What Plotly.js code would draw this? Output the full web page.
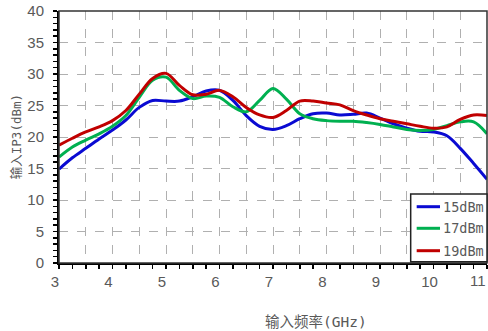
<!DOCTYPE html>
<html>
<head>
<meta charset="utf-8">
<script src="https://cdn.plot.ly/plotly-3.0.1.min.js"></script>
<style>html,body{margin:0;padding:0;background:#fff;}#chart{width:488px;height:331px;}</style>
</head>
<body>
<div id="chart"></div>
<script>
const freq = [3,3.25,3.5,3.75,4,4.25,4.5,4.75,5,5.25,5.5,5.75,6,6.25,6.5,6.75,7,7.25,7.5,7.75,8,8.25,8.5,8.75,9,9.25,9.5,9.75,10,10.25,10.5,10.75,11];
const ip3_15 = [14.9,16.7,18.2,19.7,21.1,22.7,24.7,25.8,25.7,25.7,26.4,27.3,27.4,25.8,23.4,21.7,21.2,21.8,22.9,23.7,23.8,23.5,23.6,23.8,23.0,22.1,21.4,20.9,20.8,20.2,18.2,15.8,13.3];
const ip3_17 = [16.8,18.4,19.5,20.5,21.7,23.4,26.3,29.0,29.5,27.4,26.1,26.5,26.3,24.8,24.0,25.8,27.7,26.0,23.7,22.9,22.6,22.5,22.5,22.3,22.0,21.6,21.2,21.05,21.2,21.8,22.4,22.4,20.5];
const ip3_19 = [18.7,19.8,20.8,21.6,22.6,24.2,26.8,29.3,30.1,28.2,26.7,26.8,27.4,26.4,24.7,23.5,23.1,24.2,25.7,25.7,25.4,25.1,24.2,23.5,22.9,22.5,22.1,21.7,21.4,21.6,22.8,23.5,23.4];
const seriesNames = ['15dBm','17dBm','19dBm'];
const seriesColors = ['#0a0ad2','#00b050','#c00000'];
const xTickVals = [3,3.5,4,4.5,5,5.5,6,6.5,7,7.5,8,8.5,9,9.5,10,10.5,11];
const xTickText = ['3','','4','','5','','6','','7','','8','','9','','10','',''];
const lastTickLabel = '11';
const xTitle = '输入频率(GHz)';
const yTitle = '输入IP3(dBm)';

const ys = [ip3_15, ip3_17, ip3_19];
const traces = ys.map((y,i)=>({
  x: freq, y: y, type:'scatter', mode:'lines', name: seriesNames[i],
  line:{color:seriesColors[i], width:3, shape:'spline', smoothing:1},
  showlegend:false
}));

const tickFont = {family:'Liberation Sans, Arial, sans-serif', size:15, color:'#595959'};
const monoCJK = "'DejaVu Sans Mono', 'Noto Sans CJK SC', monospace";

// custom legend
const legRows = [0.2234, 0.1377, 0.0488];
const shapes = [
  {type:'rect', xref:'paper', yref:'paper', x0:0, x1:1, y0:0, y1:1, line:{color:'#333', width:1.5}, layer:'above'},
  {type:'rect', xref:'paper', yref:'paper', x0:0.8217, x1:1, y0:0.005, y1:0.274, line:{color:'#222', width:1.5}, fillcolor:'#fff', layer:'above'}
];
const annotations = [
  {text:xTitle, xref:'paper', yref:'paper', x:0.6, y:-0.234, xanchor:'center', yanchor:'middle', showarrow:false, font:{family:monoCJK, size:14.5, color:'#595959'}},
  {text:yTitle, xref:'paper', yref:'paper', x:-0.1, y:0.5, textangle:-90, xanchor:'center', yanchor:'middle', showarrow:false, font:{family:monoCJK, size:12.5, color:'#595959'}},
  {text:lastTickLabel, xref:'paper', yref:'paper', x:1.0, y:-0.0705, xanchor:'right', yanchor:'middle', showarrow:false, font:tickFont, xshift:1}
];
seriesNames.forEach((n,i)=>{
  shapes.push({type:'line', xref:'paper', yref:'paper', x0:0.8357, x1:0.8902, y0:legRows[i], y1:legRows[i], line:{color:seriesColors[i], width:3}, layer:'above'});
  annotations.push({text:n, xref:'paper', yref:'paper', x:0.8915, y:legRows[i], xanchor:'left', yanchor:'middle', showarrow:false, font:{family:monoCJK, size:13.5, color:'#595959'}});
});

const layout = {
  width:488, height:331,
  margin:{l:59, r:1, t:11, b:68},
  paper_bgcolor:'#fff', plot_bgcolor:'#fff',
  showlegend:false,
  xaxis:{
    range:[3,11], tickmode:'array', tickvals:xTickVals, ticktext:xTickText,
    ticks:'outside', ticklen:4, tickwidth:1.5, tickcolor:'#000',
    showgrid:true, gridcolor:'#b0b0b0', griddash:'dash', gridwidth:1,
    showline:true, linecolor:'#000', linewidth:2, zeroline:false,
    tickfont:tickFont, ticklabelstandoff:0, ticklabelshift:-4, ticklabeloverflow:'allow',
    minor:{dtick:0.25, tick0:3, ticks:'outside', ticklen:4, tickwidth:1.5, tickcolor:'#000', showgrid:false}
  },
  yaxis:{
    range:[0,40], dtick:5, tick0:0,
    ticks:'outside', ticklen:4, tickwidth:1.5, tickcolor:'#000',
    showgrid:true, gridcolor:'#b0b0b0', griddash:'dash', gridwidth:1,
    showline:true, linecolor:'#000', linewidth:2, zeroline:false,
    tickfont:tickFont, ticklabelstandoff:6, ticklabeloverflow:'allow',
    minor:{dtick:1, tick0:0, ticks:'outside', ticklen:4, tickwidth:1.5, tickcolor:'#000', showgrid:false}
  },
  shapes:shapes,
  annotations:annotations
};
Plotly.newPlot('chart', traces, layout, {displayModeBar:false, staticPlot:true});
</script>
</body>
</html>
